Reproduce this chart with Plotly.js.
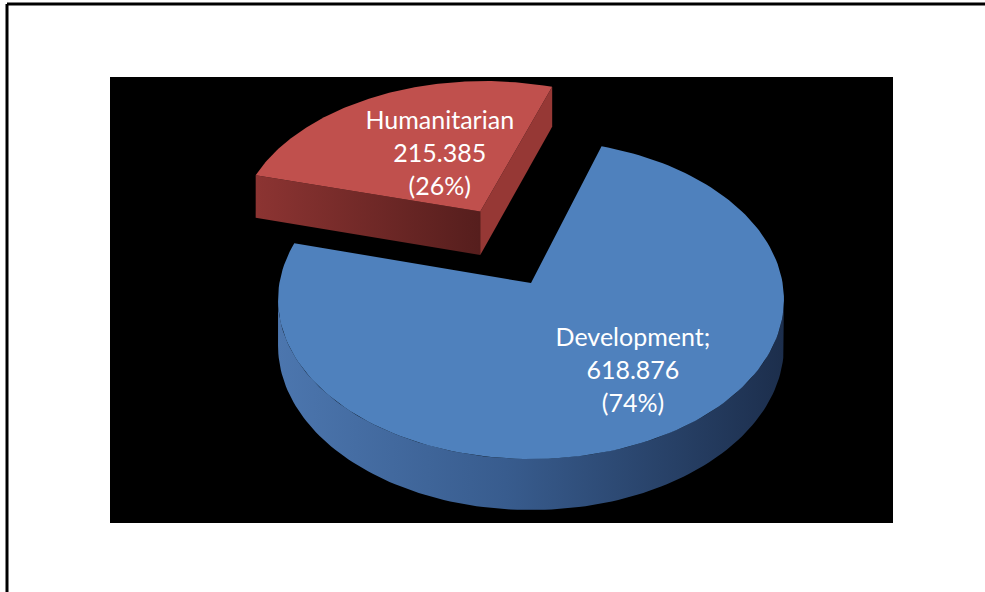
<!DOCTYPE html>
<html>
<head>
<meta charset="utf-8">
<script src="https://cdn.plot.ly/plotly-3.0.1.min.js"></script>
<style>html,body{margin:0;padding:0;background:#fff;}#chart{width:985px;height:592px;}</style>
</head>
<body>
<div id="chart"></div>
<script>
// ---- data ----
const categories = ['Humanitarian', 'Development'];
const values = [215.385, 618.876];
const labelSep = ['', ';'];

// ---- style / geometry (3D pie projection) ----
const topColors = ['#c0504d', '#4f81bd'];
const sideScales = [
  [[0, 'rgb(140,52,50)'], [1, 'rgb(86,30,29)']],
  [[0, 'rgb(76,118,174)'], [0.45, 'rgb(56,92,142)'], [1, 'rgb(28,46,76)']]
];
const cutFaceRight = ['rgb(150,56,53)', 'rgb(60,96,146)'];
const pulls = [0.52, 0];
const pullDir = [114, 0];   // explode direction, degrees
const labelR = [0.443, 0.66];
const labelDa = [-4, 6.9];
const CX = 531, CY = 283, RX = 251.6, RY = 157.8, K = 0.1035, TH = 45.7;
const START = 165; // degrees, slices run clockwise

function proj(X, Z, down) {
  const d = 1 + K * Z;
  return [CX + RX * X / d, CY + (-RY * Z + (down ? TH : 0)) / d];
}
const rad = a => a * Math.PI / 180;

const total = values.reduce((s, v) => s + v, 0);
const traces = [];
function poly(pts, color, scale) {
  const xs = pts.map(p => p[0]), ys = pts.map(p => p[1]);
  const t = {
    type: 'scatter', mode: 'lines', fill: 'toself', fillcolor: color,
    x: xs, y: ys, line: {width: 0, color: color},
    hoverinfo: 'skip', showlegend: false
  };
  if (scale) {
    t.fillgradient = {type: 'horizontal', colorscale: scale,
      start: Math.min(...xs), stop: Math.max(...xs)};
  }
  traces.push(t);
}

let cum = 0;
const slices = values.map((v, i) => {
  const a0 = START - cum / total * 360;
  cum += v;
  const a1 = START - cum / total * 360;
  const mid = (a0 + a1) / 2;
  const ox = pulls[i] * Math.cos(rad(pullDir[i])), oz = pulls[i] * Math.sin(rad(pullDir[i]));
  return {i, v, a0, a1, mid, ox, oz};
});

// silhouette angles of the rim (front half visible)
const visLo = 180 + Math.asin(K) * 180 / Math.PI, visHi = 360 - Math.asin(K) * 180 / Math.PI;

const order = slices.slice().sort((p, q) => q.oz - p.oz);
const labelTraces = [];
order.forEach(s => {
  const {i, a0, a1, mid, ox, oz} = s;
  const pt = (a, r, down) => proj(ox + r * Math.cos(rad(a)), oz + r * Math.sin(rad(a)), down);
  // radial cut faces facing the viewer
  [[a0, a0 + 90, true], [a1, a1 - 90, false]].forEach(([a, n, lead]) => {
    if (Math.sin(rad(n)) < 0) {
      const q = [pt(a, 0, false), pt(a, 1, false), pt(a, 1, true), pt(a, 0, true)];
      if (lead) poly(q, topColors[i], sideScales[i]);
      else poly(q, cutFaceRight[i]);
    }
  });
  // curved outer side, visible part only
  const sLo = Math.min(a0, a1), sHi = Math.max(a0, a1);
  for (let sh = -720; sh <= 720; sh += 360) {
    const lo = Math.max(sLo, visLo + sh), hi = Math.min(sHi, visHi + sh);
    if (hi <= lo) continue;
    const n = 120, top = [], bot = [];
    for (let k = 0; k <= n; k++) {
      const b = lo + (hi - lo) * k / n;
      top.push(pt(b, 1, false));
      bot.push(pt(b, 1, true));
    }
    poly(top.concat(bot.reverse()), topColors[i], sideScales[i]);
  }
  // top face
  const pts = [pt(0, 0, false)];
  const m = 160;
  for (let k = 0; k <= m; k++) pts.push(pt(a0 + (a1 - a0) * k / m, 1, false));
  pts.push(pt(0, 0, false));
  poly(pts, topColors[i]);
  // label
  const c = pt(mid + labelDa[i], labelR[i], false);
  const pct = Math.round(s.v / total * 100);
  const lines = [categories[i] + labelSep[i], s.v.toFixed(3), '(' + pct + '%)'];
  labelTraces.push({
    type: 'scatter', mode: 'text',
    x: lines.map(() => c[0]), y: lines.map((_, j) => c[1] + (j - 1) * 33),
    text: lines, textposition: 'middle center',
    textfont: {family: 'Lato, "Open Sans", sans-serif', size: 25, color: '#ffffff'},
    hoverinfo: 'skip', showlegend: false
  });
});

const layout = {
  width: 985, height: 592,
  margin: {l: 0, r: 0, t: 0, b: 0},
  paper_bgcolor: '#ffffff', plot_bgcolor: '#ffffff',
  xaxis: {range: [0, 985], visible: false, fixedrange: true},
  yaxis: {range: [592, 0], visible: false, fixedrange: true},
  showlegend: false,
  shapes: [
    {type: 'rect', xref: 'x', yref: 'y', x0: 110, x1: 893, y0: 77, y1: 523, fillcolor: '#000000', line: {width: 0}, layer: 'below'},
    {type: 'line', xref: 'x', yref: 'y', x0: 7, x1: 985, y0: 4, y1: 4, line: {color: '#000', width: 3}},
    {type: 'line', xref: 'x', yref: 'y', x0: 7, x1: 7, y0: 4, y1: 592, line: {color: '#000', width: 3}}
  ]
};
Plotly.newPlot('chart', traces.concat(labelTraces), layout, {staticPlot: true, displayModeBar: false});
</script>
</body>
</html>
